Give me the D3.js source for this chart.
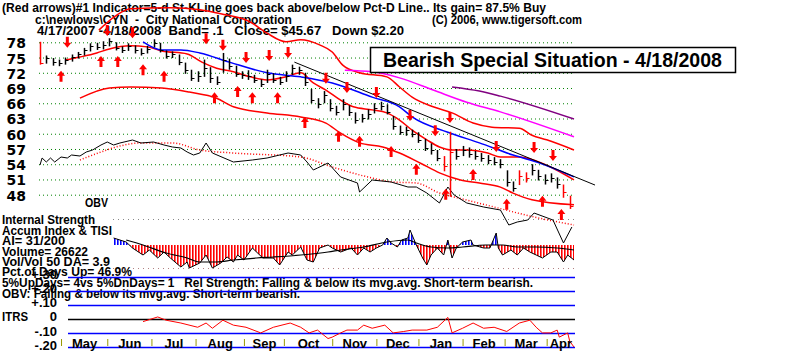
<!DOCTYPE html>
<html>
<head>
<meta charset="utf-8">
<script src="https://cdn.jsdelivr.net/npm/d3@7"></script>
<style>
  body { margin: 0; background: #fff; }
  svg { display: block; font-family: "Liberation Sans", Arial, sans-serif; font-weight: bold; }
</style>
</head>
<body>
<svg></svg>
<script>
// x is the trading-day index: 0 = 4/17/2007, 254 = 4/18/2008
var monthStart = [10, 32, 53, 74, 97, 116, 139, 160, 180, 201, 221, 241];
var monthNames = ["May", "Jun", "Jul", "Aug", "Sep", "Oct", "Nov", "Dec", "Jan", "Feb", "Mar", "Apr"];
var priceTicks = [78, 75, 72, 69, 66, 63, 60, 57, 54, 51, 48];
var itrsTicks = [0.3, 0.2, 0.1, 0, -0.1, -0.2];
var itrsLabels = ["+.30", "+.20", "+.10", "0", "-.10", "-.20"];

// price bars, one every 3 trading days
var barDays = d3.range(0, 253, 3);
var hi = [78.1,75.4,74.9,74.6,75.0,75.6,76.1,76.9,77.8,77.9,78.2,78.8,78.0,77.2,77.8,77.4,76.8,77.3,78.6,77.9,
          76.4,76.2,75.6,74.0,72.6,72.3,74.6,73.1,71.3,75.9,74.8,73.4,72.3,72.5,71.6,70.7,72.6,71.9,71.2,72.3,
          73.6,73.2,72.0,68.8,67.0,68.4,66.8,65.5,66.8,65.6,64.2,63.9,64.8,66.0,66.3,65.8,63.5,61.6,61.4,60.8,
          60.3,59.0,58.1,56.8,55.6,60.4,57.0,57.6,57.3,56.6,56.2,55.8,55.4,55.0,52.8,50.6,52.8,52.4,54.0,52.9,
          52.0,52.2,51.4,50.0,47.8];
var lo = [73.6,73.8,73.4,73.3,73.6,74.2,74.8,75.4,76.2,76.5,76.6,77.2,76.4,75.9,76.3,75.8,75.4,75.8,77.0,76.0,
          74.8,74.9,73.5,71.8,70.4,70.2,71.2,70.0,69.6,72.0,72.6,71.2,70.8,70.6,70.0,69.2,70.0,70.0,69.6,70.2,
          71.6,71.6,69.4,66.0,65.0,66.0,64.4,63.6,64.6,63.5,62.0,62.2,62.8,64.0,64.6,63.8,60.8,59.8,59.6,59.3,
          58.2,56.6,55.9,54.6,52.6,47.6,54.9,55.6,55.3,54.9,54.5,54.0,53.8,53.2,49.6,48.6,49.9,50.4,51.8,50.8,
          50.0,50.4,49.2,47.4,45.2];
var cl = [74.0,74.9,74.1,73.9,74.5,75.1,75.7,76.5,77.3,77.1,77.5,78.3,76.9,76.5,77.3,76.5,75.9,76.7,77.9,76.5,
          75.3,75.7,74.1,72.5,71.0,71.4,72.9,71.0,70.2,74.5,73.3,71.8,71.6,71.4,70.6,69.8,71.8,70.6,70.2,71.4,
          72.9,72.5,70.2,66.6,65.9,67.6,65.1,64.3,65.9,64.3,62.7,63.1,63.9,65.1,65.5,64.3,61.5,60.3,60.7,59.9,
          58.8,57.2,56.8,55.2,53.6,56.4,55.6,56.8,56.0,55.6,55.2,54.8,54.4,54.1,50.5,49.3,51.7,51.3,52.9,51.7,
          50.9,51.3,50.1,48.5,45.7];
var redBars = [0, 192, 195, 228, 231, 249, 252];

// moving averages and bands: [day, price]
var upperBand = [[28,80.4],[36,83.2],[43,84.6],[62,84.8],[76,84.4],[86,83.6],[100,82.0],[108,79.8],[117,78.1],[124,78.5],
                 [133,77.5],[139,76.1],[144,73.5],[152,72.0],[165,71.2],[171,69.2],[177,67.2],[187,65.3],[196,64.1],
                 [206,62.1],[215,61.3],[228,61.1],[234,59.7],[241,58.8],[254,56.8]];
var midLine = [[12,74.5],[19,75.1],[27,75.9],[33,76.7],[43,77.3],[51,77.1],[58,76.3],[70,75.7],[77,74.1],[84,72.9],
               [92,72.2],[100,71.2],[108,70.6],[117,71.2],[124,72.0],[130,70.0],[136,68.6],[143,66.6],[149,65.3],
               [158,64.7],[165,64.1],[171,62.7],[177,60.7],[184,58.8],[190,57.4],[196,56.8],[203,56.8],[213,56.2],
               [219,55.4],[228,55.4],[241,53.8],[254,50.9]];
var lowerBand = [[19,67.0],[33,69.0],[43,69.2],[58,69.0],[71,68.2],[84,67.0],[92,65.3],[108,64.1],[124,63.3],[136,62.1],
                 [143,60.1],[152,58.2],[163,57.4],[171,56.2],[181,54.2],[190,52.3],[200,50.9],[209,50.3],[219,49.5],
                 [225,48.3],[234,47.0],[254,46.0]];
var blueMA = [[49,78.1],[58,76.5],[67,76.5],[76,75.9],[90,74.1],[108,72.0],[124,71.2],[139,70.0],[158,67.2],[171,65.3],
              [177,63.3],[194,60.3],[209,58.2],[225,55.8],[238,54.2],[254,51.5]];
var magentaMA = [[145,72.5],[158,72.2],[171,71.0],[187,68.6],[203,66.2],[219,64.3],[254,59.4]];
var purpleMA = [[196,69.2],[209,68.4],[219,67.4],[254,62.9]];
var trendLine = [[121,74.1],[264,49.9]];

var upArrows = [[10,71.2],[29,74.1],[37,74.1],[49,72.5],[59,71.2],[83,67.0],[94,68.2],[101,67.0],[113,67.0],[126,62.1],
                [142,59.4],[152,58.4],[167,56.4],[179,52.9],[193,48.0],[206,51.9],[222,46.0],[239,46.6],[248,44.0]];
var downArrows = [[13,78.1],[32,80.4],[44,80.0],[79,78.8],[87,77.5],[98,75.1],[109,75.5],[118,76.1],[136,71.0],[146,69.2],
                  [160,68.2],[176,63.7],[188,60.7],[195,63.3],[217,57.6],[235,57.4],[244,55.8]];

// OBV and its moving average (relative units)
var obv = [[0,80],[1,87],[3,83],[5,87],[7,83],[10,88],[13,87],[15,90],[19,89],[22,93],[25,95],[29,100],[32,103],[35,100],
           [38,102],[44,105],[48,102],[54,103],[59,100],[63,98],[67,97],[70,93],[73,90],[76,92],[79,102],[82,92],[92,83],
           [101,85],[108,87],[118,92],[124,90],[127,83],[130,75],[132,77],[137,82],[143,68],[151,62],[152,53],[158,65],
           [167,63],[175,58],[179,58],[184,52],[190,42],[194,58],[197,50],[203,42],[211,38],[219,35],[223,20],[227,23],
           [232,25],[235,32],[244,25],[249,2],[253,18]];
var obvMA = [[19,85],[29,93],[38,99],[48,102],[63,102],[76,95],[92,92],[124,88],[139,78],[156,68],[168,63],[179,62],
             [190,52],[203,45],[216,38],[235,28],[254,20]];

// Accumulation index and its moving average
var ai = [[35,7],[41,3],[44,-3],[49,-10],[52,-5],[56,-13],[59,-7],[62,-13],[67,-22],[70,-17],[71,-23],[76,-18],[79,-10],
          [82,-23],[86,-18],[89,-12],[92,-17],[94,-10],[97,-15],[101,-3],[106,-13],[111,-13],[114,-20],[118,-7],[120,-10],
          [124,-2],[127,-15],[130,-17],[133,-3],[137,0],[139,-3],[143,-7],[148,-3],[151,-10],[154,-3],[157,-7],[160,-3],
          [163,0],[165,7],[167,2],[170,-2],[172,5],[175,7],[176,15],[178,5],[179,0],[182,-13],[184,-20],[186,-10],[189,-3],
          [192,-10],[194,5],[196,-13],[198,-3],[201,3],[205,5],[206,0],[211,-3],[214,-3],[217,12],[218,-3],[220,-10],
          [224,-5],[227,-10],[230,-3],[233,-7],[236,-10],[239,-13],[243,-7],[246,-7],[249,-17],[251,-10],[254,-15]];
var aiMA = [[41,5],[49,0],[60,-8],[70,-13],[76,-17],[84,-17],[92,-15],[103,-13],[111,-12],[124,-10],[137,-7],[143,-5],
            [154,-2],[165,3],[175,5],[179,2],[186,-2],[194,-3],[201,-2],[212,0],[220,0],[227,-2],[236,-2],[246,-3],[254,-5]];

// ITRS
var itrs = [[49,-0.02],[56,0.013],[60,-0.01],[67,-0.03],[75,-0.06],[79,-0.03],[82,-0.067],[87,-0.01],[92,-0.045],
            [98,-0.06],[105,-0.10],[111,-0.06],[119,-0.03],[124,-0.06],[128,-0.10],[132,-0.08],[137,-0.14],[139,-0.13],
            [143,-0.10],[146,-0.08],[151,-0.08],[154,-0.045],[158,-0.067],[164,-0.045],[168,-0.10],[173,-0.09],
            [177,-0.08],[184,-0.08],[189,-0.06],[194,0.01],[196,-0.10],[201,-0.067],[206,-0.03],[211,-0.067],
            [216,-0.06],[222,-0.09],[228,-0.03],[233,-0.01],[236,-0.06],[239,-0.10],[243,-0.10],[246,-0.08],
            [247,-0.13],[251,-0.10],[252,-0.16],[254,-0.20]];

var svgWidth = 800, svgHeight = 352;
var svg = d3.select("svg").attr("width", svgWidth).attr("height", svgHeight);

var x = d3.scaleLinear().domain([0, 254]).range([40, 574]);
var y = d3.scaleLinear().domain([48, 78]).range([194.7, 42.3]);
var obvY = d3.scaleLinear().domain([0, 110]).range([245, 135]);
var aiY = d3.scaleLinear().domain([-30, 30]).range([275, 215]);
var itrsY = d3.scaleLinear().domain([-0.2, 0.3]).range([347, 276.5]);

function txt(s, tx, ty, len, size) {
    var t = svg.append("text")
        .attr("x", tx).attr("y", ty)
        .style("font-size", (size || 13) + "px")
        .style("white-space", "pre")
        .text(s);
    if (len) t.attr("textLength", len).attr("lengthAdjust", "spacingAndGlyphs");
    return t;
}

function drawLine(data, scale, color, width, dash, curve) {
    var line = d3.line()
        .x(function (d) { return x(d[0]); })
        .y(function (d) { return scale(d[1]); })
        .curve(curve || d3.curveLinear);
    var p = svg.append("path").datum(data)
        .attr("d", line)
        .attr("fill", "none")
        .attr("stroke", color)
        .attr("stroke-width", width);
    if (dash) p.attr("stroke-dasharray", dash);
    return p;
}

// *** header ***
txt("(Red arrows)#1 Indicator=5-d St-KLine goes back above/below Pct-D Line.. Its gain= 87.5% Buy", 2, 12, 544);
txt("c:\\newlows\\CYN  -  City National Corporation", 35, 24, 257);
txt("(C) 2006, www.tigersoft.com", 432, 24, 150, 12);
txt("4/17/2007 -4/18/2008  Band= .1   Close= $45.67   Down $2.20", 37, 35, 367);

// *** price grid and labels ***
svg.append("g")
    .attr("transform", "translate(39,0)")
    .call(d3.axisLeft(y).tickValues(priceTicks).tickSize(-536).tickFormat(""))
    .call(function (g) { g.select(".domain").remove(); })
    .selectAll("line")
    .attr("stroke", "#008000")
    .attr("stroke-dasharray", "1,3");

svg.append("g")
    .attr("transform", "translate(26,1)")
    .call(d3.axisLeft(y).tickValues(priceTicks).tickSize(0).tickPadding(0))
    .call(function (g) { g.select(".domain").remove(); })
    .selectAll("text")
    .attr("fill", "#000")
    .style("font-size", "14px")
    .style("font-family", "'DejaVu Sans', sans-serif")
    .style("font-weight", "bold");

// *** accumulation index panel ***
var defs = svg.append("defs");
[["hatchRed", "#ff0000"], ["hatchBlue", "#0000ff"]].forEach(function (h) {
    defs.append("pattern")
        .attr("id", h[0])
        .attr("width", 3).attr("height", 4)
        .attr("patternUnits", "userSpaceOnUse")
        .append("rect").attr("width", 1.6).attr("height", 4).attr("fill", h[1]);
});
defs.append("clipPath").attr("id", "belowZero")
    .append("rect").attr("x", 0).attr("y", aiY(0)).attr("width", svgWidth).attr("height", 60);
defs.append("clipPath").attr("id", "aboveZero")
    .append("rect").attr("x", 0).attr("y", aiY(0) - 60).attr("width", svgWidth).attr("height", 60);

svg.append("line").attr("x1", 113).attr("x2", 575).attr("y1", 219.5).attr("y2", 219.5)
    .attr("stroke", "#888").attr("stroke-dasharray", "1,4");
svg.append("line").attr("x1", 113).attr("x2", 575).attr("y1", 268.5).attr("y2", 268.5)
    .attr("stroke", "#b08080").attr("stroke-dasharray", "1,4");

var aiArea = d3.area()
    .x(function (d) { return x(d[0]); })
    .y0(aiY(0))
    .y1(function (d) { return aiY(d[1]); });
svg.append("path").datum(ai).attr("d", aiArea)
    .attr("fill", "url(#hatchRed)").attr("clip-path", "url(#belowZero)");
svg.append("path").datum(ai).attr("d", aiArea)
    .attr("fill", "url(#hatchBlue)").attr("clip-path", "url(#aboveZero)");
drawLine(ai, aiY, "#000", 1);
drawLine(aiMA, aiY, "#000", 1.2, null, d3.curveMonotoneX);

// *** OBV ***
drawLine(obvMA, obvY, "#ff0000", 1.5, "1,2", d3.curveMonotoneX);
drawLine(obv, obvY, "#000", 1);

// *** bands and moving averages ***
drawLine(upperBand, y, "#ff0000", 1.5, null, d3.curveMonotoneX);
drawLine(midLine, y, "#ff0000", 1.5, null, d3.curveMonotoneX);
drawLine(lowerBand, y, "#ff0000", 1.5, null, d3.curveMonotoneX);
drawLine(blueMA, y, "#0000ff", 1.5, null, d3.curveMonotoneX);
drawLine(magentaMA, y, "#ff00ff", 1.5, null, d3.curveMonotoneX);
drawLine(purpleMA, y, "#800080", 1.5, null, d3.curveMonotoneX);
drawLine(trendLine, y, "#000", 1);

// *** price bars ***
var bars = svg.append("g");
cl.forEach(function (c, i) {
    var day = barDays[i];
    var bx = Math.round(x(day)) + 0.5;
    var col = redBars.indexOf(day) >= 0 ? "#ff0000" : "#000";
    bars.append("line")
        .attr("x1", bx).attr("x2", bx)
        .attr("y1", y(hi[i])).attr("y2", y(lo[i]))
        .attr("stroke", col).attr("stroke-width", 1.5);
    bars.append("line")
        .attr("x1", bx).attr("x2", bx + 3)
        .attr("y1", Math.round(y(c)) + 0.5).attr("y2", Math.round(y(c)) + 0.5)
        .attr("stroke", col);
});

// *** red arrows ***
function arrowPath(up) {
    var s = up ? 1 : -1;
    return "M0," + (-6 * s) + "L4," + (-1 * s) + "L1.5," + (-1 * s) + "L1.5," + (5 * s) +
        "L-1.5," + (5 * s) + "L-1.5," + (-1 * s) + "L-4," + (-1 * s) + "Z";
}
svg.append("g").selectAll("path")
    .data(upArrows).enter().append("path")
    .attr("d", arrowPath(true))
    .attr("transform", function (d) { return "translate(" + x(d[0]) + "," + y(d[1]) + ")"; })
    .attr("fill", "#ff0000");
svg.append("g").selectAll("path")
    .data(downArrows).enter().append("path")
    .attr("d", arrowPath(false))
    .attr("transform", function (d) { return "translate(" + x(d[0]) + "," + y(d[1]) + ")"; })
    .attr("fill", "#ff0000");

// *** lower text block (rows are packed tightly, as in the original) ***
txt("OBV", 85, 207, 23);
txt("Internal Strength", 2, 224, 93, 12);
txt("Accum Index & TISI", 2, 234.5, 110, 12);
txt("AI= 31/200", 2, 245, 63, 12);
txt("Volume= 26622", 2, 255.5, 86, 12);
txt("Vol/Vol 50 DA= 3.9", 2, 266, 108, 12);
txt("Pct.of Days Up= 46.9%", 2, 276, 130, 12);
txt("5%UpDays= 4vs 5%DnDays= 1   Rel Strength: Falling & below its mvg.avg. Short-term bearish.", 2, 286.5, 531, 12);
txt("OBV: Falling & below its mvg.avg. Short-term bearish.", 2, 297.5, 298, 12);
txt("ITRS", 2, 321, 26);

// *** ITRS panel ***
svg.append("g")
    .attr("transform", "translate(57,-2)")
    .call(d3.axisLeft(itrsY).tickValues(itrsTicks).tickSize(0).tickPadding(0)
        .tickFormat(function (d, i) { return itrsLabels[i]; }))
    .call(function (g) { g.select(".domain").remove(); })
    .selectAll("text")
    .attr("fill", "#000")
    .style("font-size", "13px")
    .style("font-weight", "bold");

svg.append("g").selectAll("line")
    .data(itrsTicks).enter().append("line")
    .attr("x1", 68).attr("x2", 575)
    .attr("y1", function (d) { return Math.round(itrsY(d)) + 0.5; })
    .attr("y2", function (d) { return Math.round(itrsY(d)) + 0.5; })
    .attr("stroke", function (d) { return d === 0 ? "#000" : "#0000ff"; })
    .attr("stroke-width", 1.5);

drawLine(itrs, itrsY, "#ff0000", 1);

// *** month axis ***
svg.append("g")
    .attr("transform", "translate(0,339)")
    .call(d3.axisBottom(x).tickValues(monthStart).tickSize(7).tickFormat(""))
    .call(function (g) { g.select(".domain").remove(); })
    .selectAll("line").attr("stroke", "#999900");

var monthMid = monthStart.map(function (m, i) {
    var next = i < monthStart.length - 1 ? monthStart[i + 1] : 254;
    return (m + next) / 2;
});
svg.append("g")
    .attr("transform", "translate(0,339)")
    .call(d3.axisBottom(x).tickValues(monthMid).tickSize(0).tickPadding(0)
        .tickFormat(function (d, i) { return monthNames[i]; }))
    .call(function (g) { g.select(".domain").remove(); })
    .selectAll("text")
    .attr("fill", "#000")
    .style("font-size", "13px")
    .style("font-weight", "bold");

// *** title box ***
svg.append("rect")
    .attr("x", 370.5).attr("y", 47.5).attr("width", 365).attr("height", 25)
    .attr("fill", "#fff").attr("stroke", "#000").attr("stroke-width", 1.5);
txt("Bearish Special Situation - 4/18/2008", 383, 67, 339, 21);
</script>
</body>
</html>
